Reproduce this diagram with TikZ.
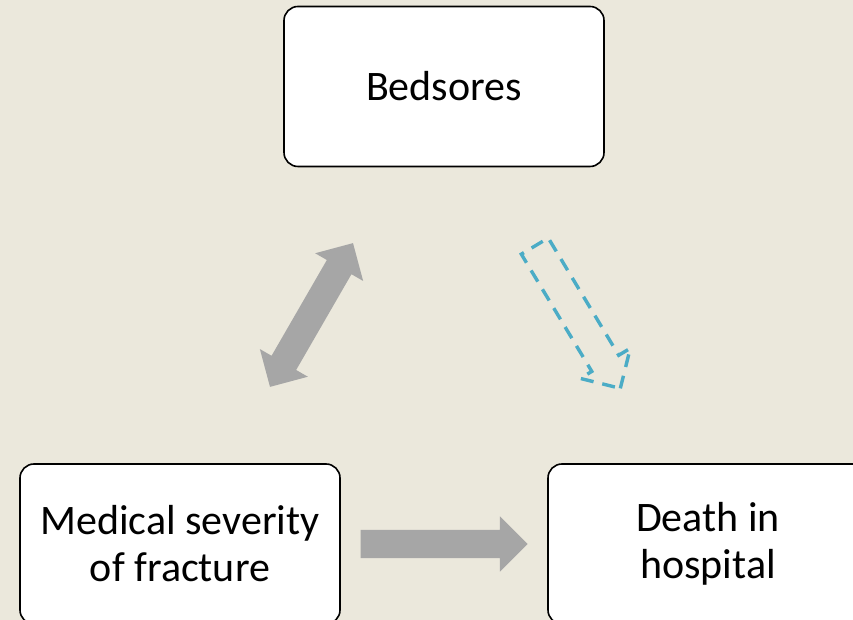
\documentclass[tikz,border=0pt]{standalone}
\usepackage{fontspec}
\setmainfont{Carlito}
\usepackage{tikz}
\usetikzlibrary{shapes.arrows, positioning}
\definecolor{paper}{RGB}{235,232,220}
\definecolor{arrowgray}{RGB}{166,166,166}
\definecolor{linkteal}{RGB}{75,172,198}

\begin{document}
\begin{tikzpicture}[
    x=1pt, y=1pt,
    box/.style={draw, line width=1.6pt, rounded corners=14pt, fill=white, minimum width=320pt, minimum height=160pt, align=center, font=\fontsize{42}{47}\selectfont},
    fatarrow/.style={single arrow, single arrow head extend=13.5pt, inner xsep=0pt, inner ysep=14pt, minimum height=#1},
    fatarrow/.default={167pt},
    twoway/.style={double arrow, double arrow head extend=13.5pt, inner xsep=0pt, inner ysep=14pt, minimum height=#1},
    twoway/.default={166pt}
]
\useasboundingbox (0,0) rectangle (853,620);
\clip (0,0) rectangle (853,620);
\fill[paper] (0,0) rectangle (853,620);

\node[box] (bed) at (444,533.5) {Bedsores};
\node[box] (sev) at (180,76) {Medical severity\\of fracture};
\node[box] (death) at (708,76) {Death in\\hospital};

\node[twoway, fill=arrowgray, rotate=60] (sevbed) at (311.5,305) {};
\node[fatarrow, fill=arrowgray] (sevdeath) at (437,76) {};
\node[fatarrow=166pt, draw=linkteal, line width=3.4pt, dash pattern=on 13pt off 9pt, rotate=-59] (beddeath) at (573.5,309.5) {};

\end{tikzpicture}
\end{document}
